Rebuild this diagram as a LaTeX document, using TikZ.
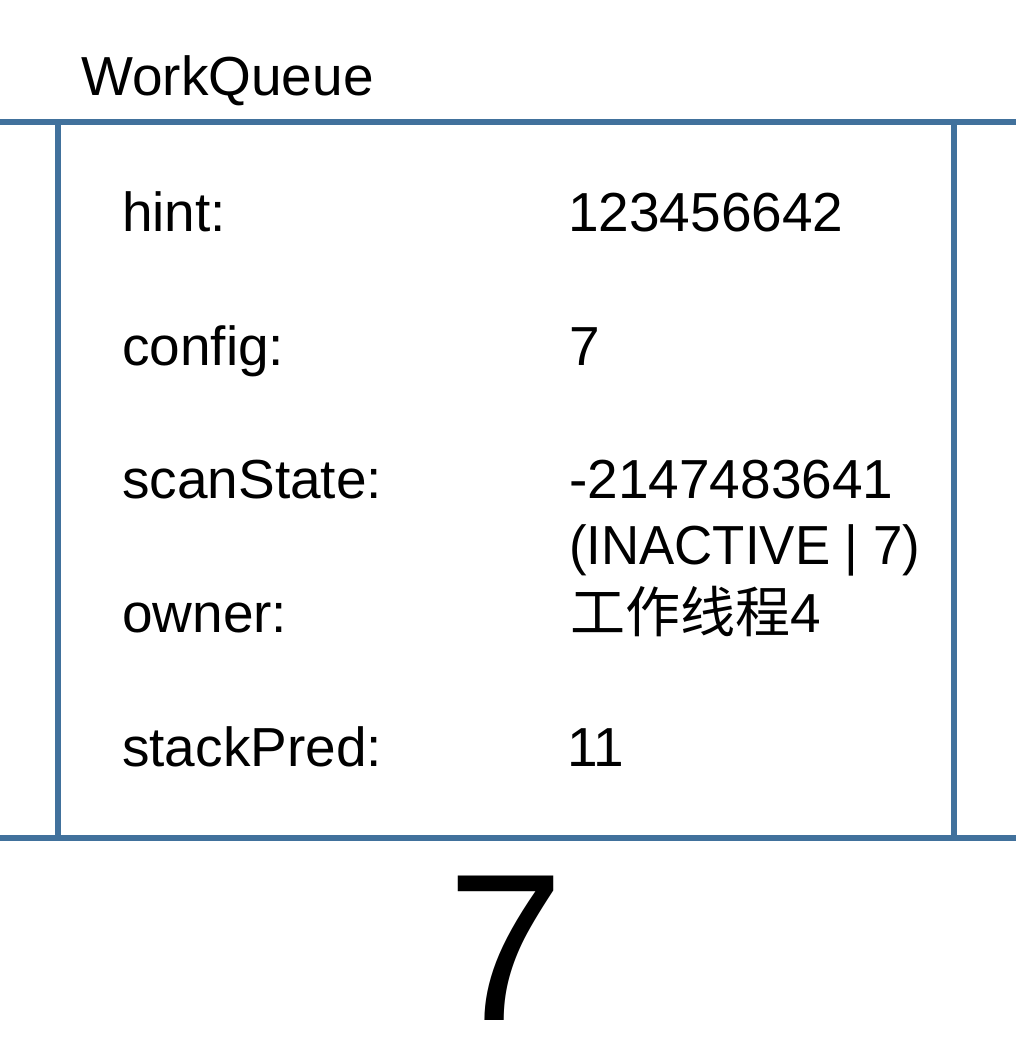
\documentclass[tikz,border=0pt]{standalone}
\usepackage{fontspec}
\setmainfont{Liberation Sans}
\newfontfamily\cjk{Noto Sans CJK SC}
\definecolor{boxblue}{RGB}{65,113,156}
\begin{document}
\begin{tikzpicture}[x=1pt,y=-1pt,
  lbl/.style={anchor=base west,inner sep=0pt,font=\fontsize{55}{66}\selectfont},
  frame/.style={draw=boxblue,line width=6pt}]
\useasboundingbox (0,0) rectangle (1016,1046);
% frame
\coordinate (tl) at (58,122);
\coordinate (br) at (954,838);
\coordinate (lt) at (0,122);
\coordinate (rt) at (1016,122);
\coordinate (lb) at (0,838);
\coordinate (rb) at (1016,838);
\draw[frame] (lt) -- (rt);
\draw[frame] (lb) -- (rb);
\draw[frame] (tl) rectangle (br);
% title
\node[lbl] (title) at (81,96) {WorkQueue};
% labels
\node[lbl] (hint) at (122,231) {hint:};
\node[lbl] (config) at (122,365) {config:};
\node[lbl] (scan) at (122,498) {scanState:};
\node[lbl] (owner) at (122,632) {owner:};
\node[lbl] (pred) at (122,766) {stackPred:};
% values
\node[lbl] (vhint) at (568,231) {123456642};
\node[lbl] (vconfig) at (569,365) {7};
\node[lbl] (vscan) at (569,498) {-2147483641};
\node[lbl] (vscan2) at (569,564) {\scalebox{0.96}[1]{(INACTIVE | 7)}};
\node[lbl] (vowner) at (570,632) {{\cjk 工作线程}4};
\node[lbl] (vpred) at (567,766) {11};
% index
\node[anchor=base,inner sep=0pt,font=\fontsize{210}{230}\selectfont] (idx) at (506,1020) {7};
\end{tikzpicture}
\end{document}
